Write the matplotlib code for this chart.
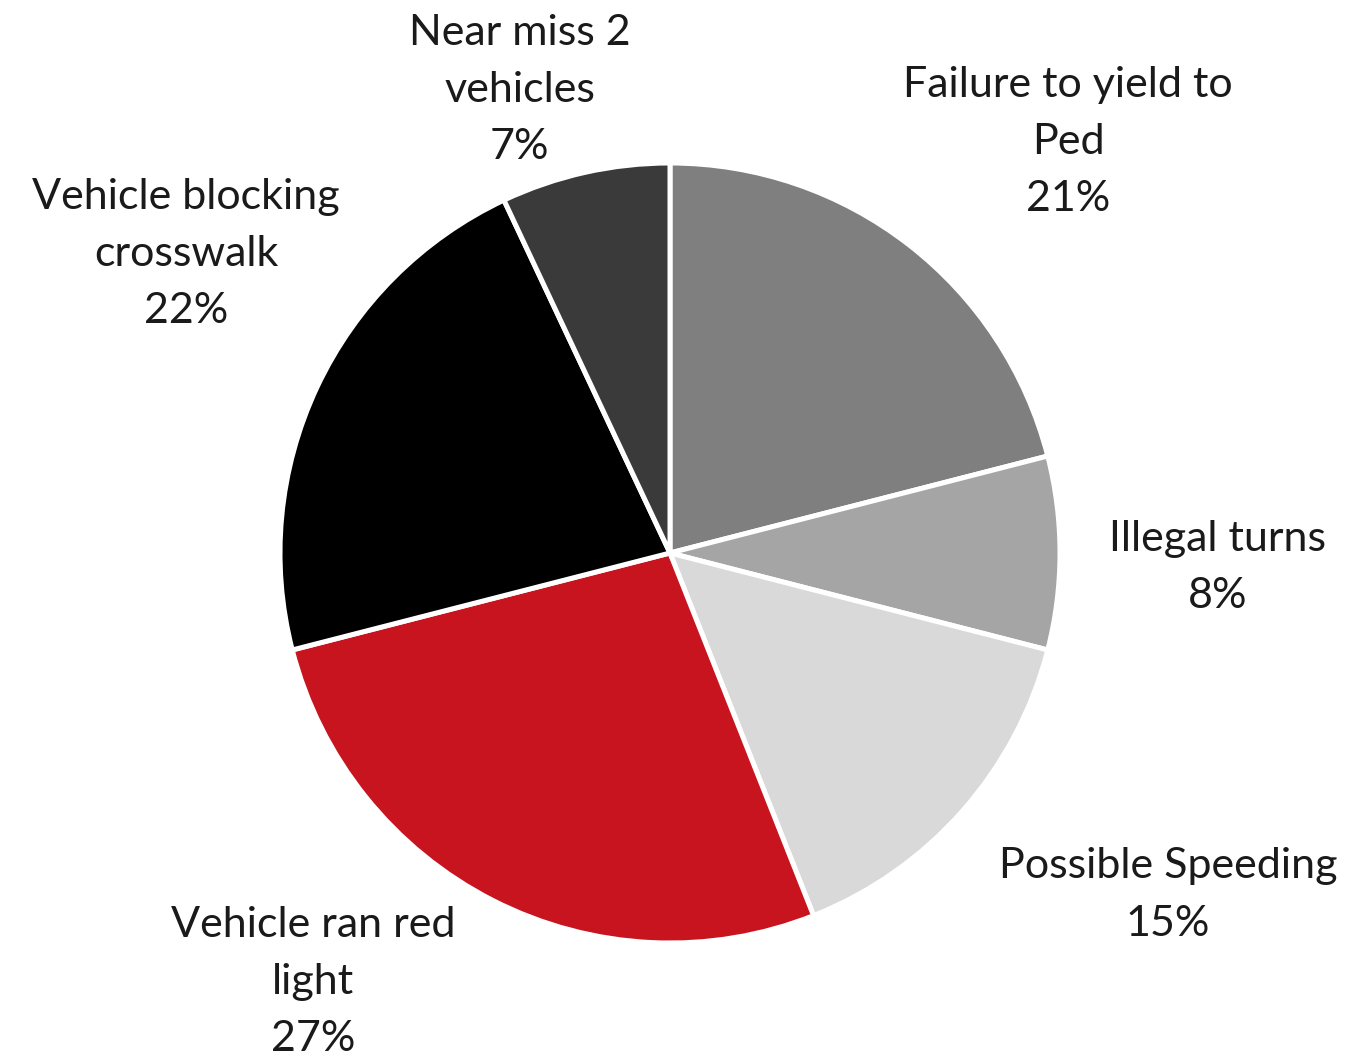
import numpy as np
import matplotlib
matplotlib.use("Agg")
from matplotlib import pyplot as plt

# Slices, clockwise from 12 o'clock
labels = ["Failure to yield to\nPed", "Illegal turns", "Possible Speeding",
          "Vehicle ran red\nlight", "Vehicle blocking\ncrosswalk", "Near miss 2\nvehicles"]
shares = [21, 8, 15, 27, 22, 7]
colors = ["#7f7f7f", "#a5a5a5", "#d9d9d9", "#c8141e", "#000000", "#3a3a3a"]

# where each label sits (axes data units, pie radius = 1)
label_xy = [(1.021, 1.054), (1.403, -0.038), (1.277, -0.877),
            (-0.915, -1.10), (-1.241, 0.767), (-0.385, 1.187)]

fig = plt.figure(figsize=(13.45, 10.57), dpi=100)
ax = fig.add_axes([0, 0, 1, 1])
ax.pie(shares, colors=colors, startangle=90, counterclock=False, radius=1,
       wedgeprops=dict(edgecolor="white", linewidth=3.6))

for lab, val, (x, y) in zip(labels, shares, label_xy):
    ax.text(x, y, f"{lab}\n{val}%", ha="center", va="center",
            fontsize=31, family=["Lato", "DejaVu Sans"], color="#1a1a1a",
            linespacing=1.62)

ax.set_xlim(-670 / 390, (1345 - 670) / 390)
ax.set_ylim(-504 / 390, 553 / 390)
ax.set_aspect("equal")
ax.axis("off")

fig.savefig("out.png", dpi=100, facecolor="white")
